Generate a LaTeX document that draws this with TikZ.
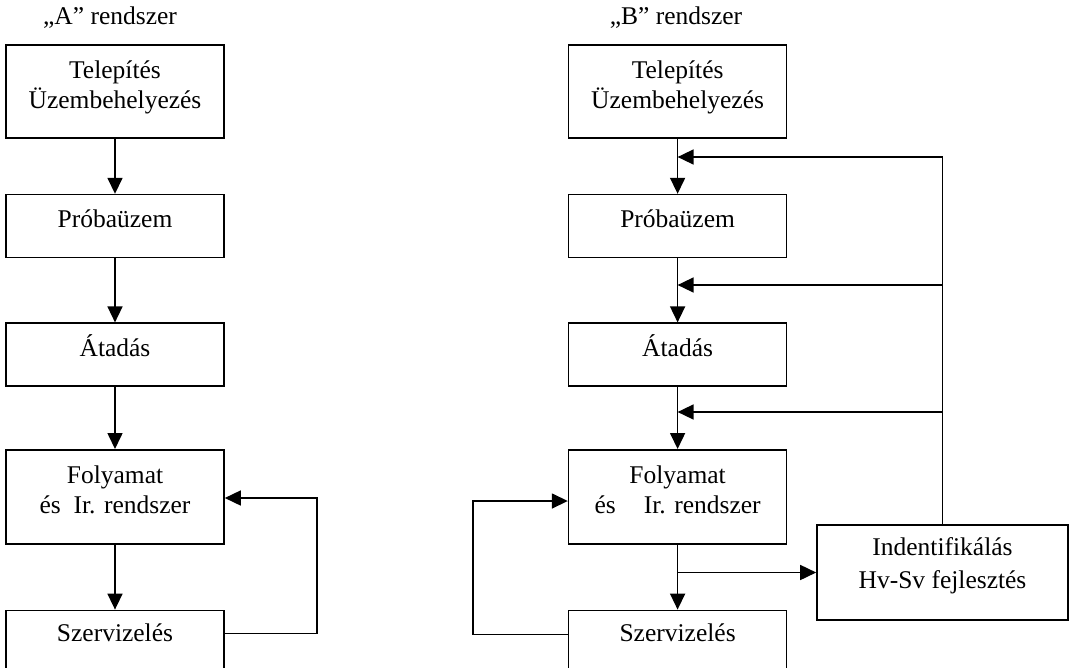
\documentclass[tikz,border=0pt]{standalone}
\usepackage{fontspec}
\setmainfont{Liberation Serif}
\usetikzlibrary{positioning,arrows.meta}
\tikzset{>={Triangle[length=16pt,width=15pt]}}

\begin{document}
\begin{tikzpicture}[x=1pt, y=-1pt, line width=1.6pt,
    font=\fontsize{25.5pt}{30pt}\selectfont,
    box/.style={draw, minimum width=218pt, align=center, inner sep=2pt},
    onebox/.style={box, minimum height=63pt, text height=18pt, text depth=15pt},
    twobox/.style={box, minimum height=93pt, text height=40pt, text depth=7pt}]

  \useasboundingbox (0,0) rectangle (1070,667);

  % Titles
  \node (titleA) at (110,18) {„A” rendszer};
  \node (titleB) at (676,18) {„B” rendszer};

  % Nodes, system A
  \node[twobox] (A1) at (115,91.5) {Telepítés\\Üzembehelyezés};
  \node[onebox, below=55pt of A1] (A2) {Próbaüzem};
  \node[onebox, below=64pt of A2] (A3) {Átadás};
  \node[twobox, minimum height=94pt, below=62pt of A3] (A4) {Folyamat\\és\enspace Ir. rendszer};
  \node[onebox, minimum height=60pt, below=65pt of A4] (A5) {Szervizelés};

  % Nodes, system B
  \node[twobox, right=343pt of A1] (B1) {Telepítés\\Üzembehelyezés};
  \node[onebox, below=55pt of B1] (B2) {Próbaüzem};
  \node[onebox, below=64pt of B2] (B3) {Átadás};
  \node[twobox, minimum height=94pt, below=62pt of B3] (B4) {Folyamat\\és\hspace{1.1em}Ir. rendszer};
  \node[onebox, minimum height=60pt, below=65pt of B4] (B5) {Szervizelés};
  \node[box, minimum width=251pt, minimum height=95pt, text height=38pt, text depth=7pt]
    (ident) at (942.5,572.5) {Indentifikálás\\[3pt]Hv-Sv fejlesztés};

  % Joints
  \coordinate (loopA) at (317,498);
  \coordinate (loopB) at (473,501);
  \coordinate (jB1) at (B1.south |- 0,157);
  \coordinate (jB2) at (B1.south |- 0,285);
  \coordinate (jB3) at (B1.south |- 0,412);
  \coordinate (jD) at (B4.south |- ident.west);

  % Edges, system A
  \draw[->] (A1) -- (A2);
  \draw[->] (A2) -- (A3);
  \draw[->] (A3) -- (A4);
  \draw[->] (A4) -- (A5);
  \draw[->] ([yshift=7pt]A5.east) -| (loopA) -- (A4.east |- loopA);

  % Edges, system B
  \draw[->] (B1) -- (B2);
  \draw[->] (B2) -- (B3);
  \draw[->] (B3) -- (B4);
  \draw[->] (B4) -- (B5);
  \draw[->] (jD) -- (ident.west);
  \draw[->] (ident.north) |- (jB1);
  \draw[->] (ident.north |- jB2) -- (jB2);
  \draw[->] (ident.north |- jB3) -- (jB3);
  \draw[->] ([yshift=6pt]B5.west) -| (loopB) -- (B4.west |- loopB);

\end{tikzpicture}
\end{document}
